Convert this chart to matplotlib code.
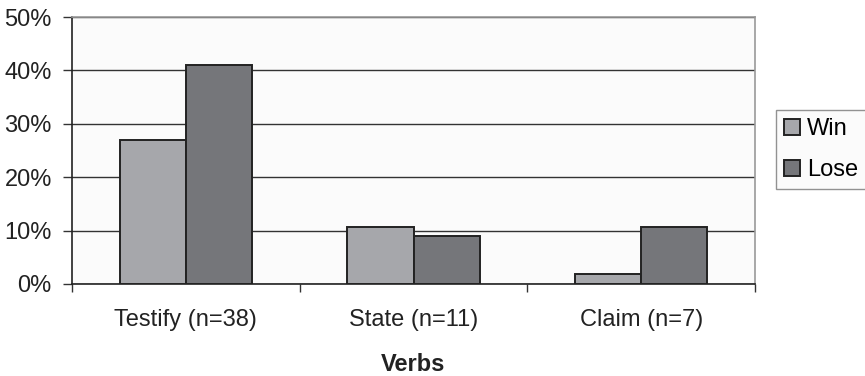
import matplotlib
matplotlib.use("Agg")
import matplotlib.pyplot as plt
import numpy as np
from matplotlib.ticker import PercentFormatter

categories = ["Testify (n=38)", "State (n=11)", "Claim (n=7)"]
win = [27.0, 10.7, 1.9]
lose = [41.1, 9.0, 10.7]
yticks = [0, 10, 20, 30, 40, 50]

plt.rcParams["font.family"] = ["Liberation Sans", "DejaVu Sans"]

fig = plt.figure(figsize=(8.65, 3.76), dpi=100)
ax = fig.add_axes([72 / 865, 1 - 284 / 376, (755 - 72) / 865, (284 - 17) / 376])
ax.set_facecolor("#fbfbfb")

x = np.arange(len(categories))
w = 0.29
ax.bar(x - w / 2, win, w, color="#a6a7ab", edgecolor="#222222", linewidth=1.4,
       label="Win", zorder=3)
ax.bar(x + w / 2, lose, w, color="#75767a", edgecolor="#222222", linewidth=1.4,
       label="Lose", zorder=3)

ax.set_xlim(-0.5, len(categories) - 0.5)
ax.set_ylim(0, 50)
ax.set_yticks(yticks)
ax.yaxis.set_major_formatter(PercentFormatter(decimals=0))
ax.grid(axis="y", color="#333333", linewidth=1.0, zorder=1)
ax.set_axisbelow(True)

# category labels centred between boundary ticks
ax.set_xticks(x)
ax.set_xticklabels(categories, fontsize=17, color="#222222")
ax.tick_params(axis="x", length=0, pad=18)
ax.set_xticks(np.arange(len(categories) + 1) - 0.5, minor=True)
ax.tick_params(axis="x", which="minor", length=6, width=1, color="#333333", direction="out")
ax.tick_params(axis="y", length=6.5, width=1, color="#333333", labelsize=17,
               labelcolor="#222222", pad=8)

for side in ("top", "right"):
    ax.spines[side].set_color("#999999")
    ax.spines[side].set_linewidth(1.2)
for side in ("left", "bottom"):
    ax.spines[side].set_color("#222222")
    ax.spines[side].set_linewidth(1.2)

ax.set_xlabel("Verbs", fontsize=17, fontweight="bold", color="#222222", labelpad=16)

leg = fig.legend(loc="upper left", bbox_to_anchor=(776 / 865, 1 - 110 / 376),
                 fontsize=17, frameon=True, fancybox=False, handlelength=0.67,
                 handleheight=0.67, handletextpad=0.3, borderpad=0.35,
                 labelspacing=0.8, borderaxespad=0)
leg.get_frame().set_edgecolor("#777777")
leg.get_frame().set_linewidth(1.0)
leg.get_frame().set_facecolor("#fbfbfb")

fig.savefig("out.png", dpi=100, facecolor="white")
